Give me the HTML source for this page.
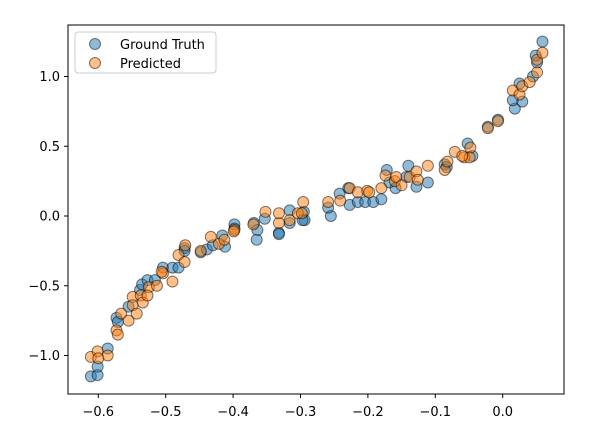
<!DOCTYPE html>
<html><head><meta charset="utf-8"><style>
body{margin:0;background:#fff;}
svg{display:block;font-family:"DejaVu Sans","Liberation Sans",sans-serif;}
</style></head><body>
<svg id="chart" width="589" height="443" viewBox="0 0 589 443" xmlns="http://www.w3.org/2000/svg">
<rect width="589" height="443" fill="#fff"/>
<g id="marks"></g>
<rect x="68" y="25" width="496" height="369" fill="none" stroke="#000" stroke-width="1"/>
<g id="xaxis"></g>
<g id="yaxis"></g>
<g>
<rect x="75" y="32" width="141" height="41" rx="3" fill="#fff" fill-opacity="0.8" stroke="#ccc"/>
<circle cx="95" cy="44" r="5.5" fill="rgba(31,119,180,0.5)" stroke="rgba(0,0,0,0.5)"/>
<text x="120" y="49" font-size="13">Ground Truth</text>
<circle cx="95" cy="63" r="5.5" fill="rgba(255,127,14,0.5)" stroke="rgba(0,0,0,0.5)"/>
<text x="120" y="68" font-size="13">Predicted</text>
</g>
</svg>
<script>
const truthX=[-0.611,-0.601,-0.601,-0.586,-0.573,-0.571,-0.555,-0.538,-0.535,-0.527,
-0.516,-0.504,-0.490,-0.481,-0.472,-0.472,-0.448,-0.439,-0.430,-0.416,
-0.412,-0.398,-0.398,-0.369,-0.365,-0.353,-0.364,-0.332,-0.332,-0.316,
-0.316,-0.295,-0.294,-0.297,-0.255,-0.259,-0.242,-0.229,-0.227,-0.215,
-0.204,-0.192,-0.180,-0.172,-0.168,-0.159,-0.143,-0.140,-0.128,-0.111,
-0.086,-0.083,-0.052,-0.045,-0.022,-0.007,0.018,0.015,0.029,0.025,
0.045,0.051,0.049,0.059];
const truthY=[-1.15,-1.14,-1.08,-0.95,-0.73,-0.76,-0.65,-0.53,-0.49,-0.46,
-0.46,-0.37,-0.37,-0.37,-0.23,-0.25,-0.26,-0.24,-0.21,-0.14,
-0.22,-0.06,-0.09,-0.05,-0.17,-0.02,-0.10,-0.12,-0.13,0.04,
-0.05,0.03,-0.03,-0.03,0.00,0.06,0.16,0.20,0.08,0.10,
0.10,0.10,0.12,0.33,0.24,0.20,0.28,0.36,0.21,0.24,
0.37,0.35,0.52,0.43,0.64,0.69,0.77,0.83,0.82,0.95,
1.00,1.10,1.15,1.25];
const predX=[-0.611,-0.601,-0.586,-0.600,-0.573,-0.571,-0.566,-0.555,-0.549,-0.549,-0.543,-0.537,-0.534,-0.525,-0.527,-0.513,-0.504,-0.490,-0.506,-0.481,-0.472,-0.471,-0.448,-0.433,-0.421,-0.413,-0.398,-0.399,-0.370,-0.352,-0.332,-0.332,-0.316,-0.304,-0.298,-0.296,-0.259,-0.241,-0.227,-0.215,-0.201,-0.198,-0.180,-0.174,-0.160,-0.158,-0.150,-0.138,-0.128,-0.126,-0.111,-0.086,-0.082,-0.071,-0.048,-0.057,-0.049,-0.022,-0.007,0.015,0.025,0.029,0.040,0.051,0.051,0.059,-0.060];
const predY=[-1.01,-0.97,-1.00,-1.02,-0.82,-0.85,-0.70,-0.75,-0.58,-0.64,-0.70,-0.57,-0.62,-0.51,-0.57,-0.50,-0.41,-0.47,-0.40,-0.28,-0.33,-0.21,-0.25,-0.15,-0.20,-0.17,-0.10,-0.11,-0.06,0.03,-0.05,0.02,-0.03,0.02,0.02,0.10,0.10,0.11,0.20,0.17,0.18,0.17,0.20,0.29,0.25,0.28,0.22,0.28,0.32,0.26,0.36,0.33,0.39,0.46,0.49,0.42,0.42,0.63,0.68,0.90,0.87,0.93,0.96,1.03,1.12,1.17,0.43];
const xTicks=[-0.6,-0.5,-0.4,-0.3,-0.2,-0.1,0.0];
const xTickLabels=["\u22120.6","\u22120.5","\u22120.4","\u22120.3","\u22120.2","\u22120.1","0.0"];
const yTicks=[-1.0,-0.5,0.0,0.5,1.0];
const yTickLabels=["\u22121.0","\u22120.5","0.0","0.5","1.0"];
const NS="http://www.w3.org/2000/svg";
function sx(v){return 502.7+v*674;}
function sy(v){return 216-v*139.5;}
const marks=document.getElementById('marks');
function dot(x,y,fill,name){
  const c=document.createElementNS(NS,'circle');
  c.setAttribute('cx',sx(x));c.setAttribute('cy',sy(y));c.setAttribute('r',5.5);
  c.setAttribute('fill',fill);c.setAttribute('stroke','rgba(0,0,0,0.5)');c.setAttribute('stroke-width','1');
  
  
  marks.appendChild(c);
}
truthX.forEach((x,i)=>dot(x,truthY[i],'rgba(31,119,180,0.5)','ground-truth-point'));
predX.forEach((x,i)=>dot(x,predY[i],'rgba(255,127,14,0.5)','predicted-point'));
const xa=document.getElementById('xaxis');
xTicks.forEach((t,i)=>{
  const X=sx(t);
  const l=document.createElementNS(NS,'line');
  l.setAttribute('x1',X);l.setAttribute('x2',X);l.setAttribute('y1',394);l.setAttribute('y2',398);l.setAttribute('stroke','#000');
  
  
  xa.appendChild(l);
  const tx=document.createElementNS(NS,'text');
  tx.setAttribute('x',X);tx.setAttribute('y',416);tx.setAttribute('text-anchor','middle');tx.setAttribute('font-size','13');
  tx.textContent=xTickLabels[i];
  
  
  xa.appendChild(tx);
});
const ya=document.getElementById('yaxis');
yTicks.forEach((t,i)=>{
  const Y=sy(t);
  const l=document.createElementNS(NS,'line');
  l.setAttribute('x1',64);l.setAttribute('x2',68);l.setAttribute('y1',Y);l.setAttribute('y2',Y);l.setAttribute('stroke','#000');
  
  
  ya.appendChild(l);
  const tx=document.createElementNS(NS,'text');
  tx.setAttribute('x',60);tx.setAttribute('y',Y+4.5);tx.setAttribute('text-anchor','end');tx.setAttribute('font-size','13');
  tx.textContent=yTickLabels[i];
  
  
  ya.appendChild(tx);
});
</script>
</body></html>
